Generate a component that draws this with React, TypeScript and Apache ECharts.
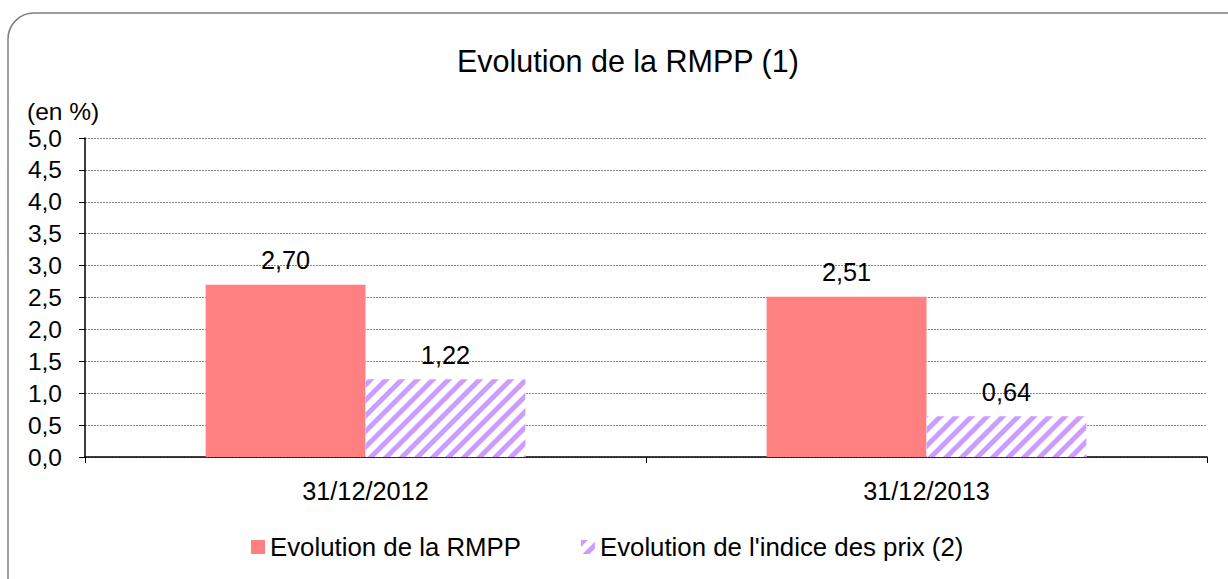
import React, { useEffect, useRef } from "react";
import * as echarts from "echarts";

const categories = ["31/12/2012", "31/12/2013"];
const rmpp = [2.7, 2.51];
const indicePrix = [1.22, 0.64];
const seriesNames = ["Evolution de la RMPP", "Evolution de l'indice des prix (2)"];
const titleText = "Evolution de la RMPP (1)";
const unitText = "(en %)";

const fmt = (v: number, d: number) => v.toFixed(d).replace(".", ",");

export default function App() {
  const ref = useRef<HTMLDivElement>(null);
  useEffect(() => {
    if (!ref.current) return;
    const chart = echarts.init(ref.current, undefined, { renderer: "svg" });
    const font = "'Liberation Sans', Arial, sans-serif";
    const fs = 25.3;
    chart.setOption({
      animation: false,
      backgroundColor: "#ffffff",
      textStyle: { fontFamily: font },
      title: {
        text: titleText,
        left: 452,
        top: 40,
        textStyle: { fontFamily: font, fontSize: 30.5, fontWeight: "normal", color: "#000" },
      },
      graphic: [
        {
          type: "rect",
          shape: { x: 8, y: 13, width: 1260, height: 620, r: 26 },
          style: { fill: "none", stroke: "#7f7f7f", lineWidth: 1.5 },
          silent: true,
        },
        {
          type: "text",
          left: 27,
          top: 99,
          style: { text: unitText, fontFamily: font, fontSize: 24.5, fill: "#000" },
        },
      ],
      legend: {
        bottom: 14,
        left: 246,
        itemWidth: 14,
        itemHeight: 14,
        itemGap: 60,
        icon: "rect",
        textStyle: { fontFamily: font, fontSize: 25.8, color: "#000" },
        data: seriesNames,
      },
      grid: { left: 85, right: 21, top: 138, bottom: 122 },
      xAxis: {
        type: "category",
        data: categories,
        axisLine: { lineStyle: { color: "#000", width: 1.5 } },
        axisTick: { show: true, length: 6, lineStyle: { color: "#000" } },
        axisLabel: { fontFamily: font, fontSize: fs, color: "#000", margin: 21 },
      },
      yAxis: {
        type: "value",
        min: 0,
        max: 5,
        interval: 0.5,
        axisLine: { show: true, lineStyle: { color: "#000", width: 1.5 } },
        axisTick: { show: true, length: 6, lineStyle: { color: "#000" } },
        axisLabel: {
          fontFamily: font,
          fontSize: 24.5,
          color: "#000",
          margin: 23,
          formatter: (v: number) => fmt(v, 1),
        },
        splitLine: { show: true, lineStyle: { color: "#888", type: [2, 1], width: 1 } },
      },
      series: [
        {
          name: seriesNames[0],
          type: "bar",
          data: rmpp,
          barWidth: "28.5%",
          barGap: "0%",
          itemStyle: { color: "#ff8080" },
          label: {
            show: true,
            position: "top",
            distance: 12,
            fontFamily: font,
            fontSize: fs,
            color: "#000",
            formatter: (p: any) => fmt(p.value, 2),
          },
        },
        {
          name: seriesNames[1],
          type: "bar",
          data: indicePrix,
          barWidth: "28.5%",
          itemStyle: {
            color: "#ffffff",
            decal: {
              symbol: "rect",
              symbolSize: 1,
              color: "#cc9cff",
              dashArrayX: [1, 0],
              dashArrayY: [5, 6],
              rotation: -Math.PI / 4,
            },
          },
          label: {
            show: true,
            position: "top",
            distance: 12,
            fontFamily: font,
            fontSize: fs,
            color: "#000",
            formatter: (p: any) => fmt(p.value, 2),
          },
        },
      ],
    });
    return () => chart.dispose();
  }, []);
  return (
    <div
      ref={ref}
      style={{ position: "absolute", left: 0, top: 0, width: 1228, height: 579 }}
    />
  );
}
